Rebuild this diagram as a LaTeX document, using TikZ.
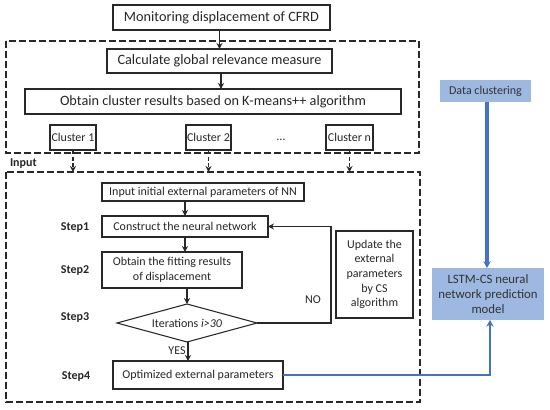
\documentclass[tikz,border=0pt]{standalone}
\usepackage{fontspec}
\setmainfont{Carlito}
\usetikzlibrary{shapes.geometric,arrows.meta,calc}
\newlength\px
\setlength\px{0.75pt}
\definecolor{lineblue}{RGB}{68,114,196}
\definecolor{fillblue}{RGB}{157,185,225}
\definecolor{boxline}{RGB}{40,40,40}
\begin{document}
\begin{tikzpicture}[x=0.75pt,y=-0.75pt,
  every node/.style={inner sep=0pt,outer sep=0pt,text=black!85},
  bx/.style={draw=boxline,line width=0.8pt,rectangle,align=center},
  big/.style={font=\fontsize{10.7}{12.8}\selectfont},
  small/.style={font=\fontsize{9}{11}\selectfont},
  steplab/.style={font=\fontsize{9}{11}\selectfont\bfseries},
  bluebox/.style={fill=fillblue,rectangle,align=center,text=black!80},
  dashbox/.style={draw=boxline,line width=0.8pt,dash pattern=on 5pt off 2.5pt},
  arr/.style={draw=boxline,line width=0.8pt,-{Stealth[length=4.5pt,width=4.5pt]}},
  darr/.style={arr,dash pattern=on 3pt off 2pt},
  barr/.style={draw=lineblue,-{Stealth[length=5pt,width=5.5pt]}}
]
\useasboundingbox (0,0) rectangle (550,410);

% dashed boxes
\draw[dashbox] (6,41) rectangle (419,153);
\draw[dashbox] (6,172) rectangle (420,402);

% top part
\node[bx,big,minimum width=217\px,minimum height=25\px] (mon) at (221.5,17.5) {Monitoring displacement of CFRD};
\node[bx,big,minimum width=225\px,minimum height=24\px] (calc) at (219.5,61) {Calculate global relevance measure};
\node[bx,big,minimum width=376\px,minimum height=25\px] (km) at (213,101.5) {Obtain cluster results based on K-means++ algorithm};
\node[bx,small,minimum width=46\px,minimum height=25\px] (c1) at (73,137.5) {Cluster 1};
\node[bx,small,minimum width=45\px,minimum height=25\px] (c2) at (208.5,137.5) {Cluster 2};
\node[bx,small,minimum width=47\px,minimum height=25\px] (cn) at (349.5,137.5) {Cluster n};
\node[small] (dots) at (281,140) {\dots};

\draw[arr] (mon.south -| calc.north) -- (calc.north);
\draw[arr] (calc.south -| 221,0) -- (221,89);

\node[steplab,anchor=west] (inlab) at (10,164) {Input};
\coordinate (t1) at (73,172);
\coordinate (t2) at (208.5,172);
\coordinate (tn) at (349.5,172);
\draw[darr] (c1.south) -- (t1);
\draw[darr] (c2.south) -- (t2);
\draw[darr] (cn.south) -- (tn);

% lower part
\node[bx,small,minimum width=202\px,minimum height=18\px] (inp) at (203,192) {Input initial external parameters of NN};
\node[bx,small,minimum width=166\px,minimum height=21\px] (cons) at (185,226.5) {Construct the neural network};
\node[bx,small,minimum width=140\px,minimum height=36\px,font=\fontsize{9}{10.8}\selectfont] (fit) at (172,270) {Obtain the fitting results\\of displacement};
\node[draw=boxline,line width=0.8pt,diamond,aspect=3.68,small,minimum width=140\px,minimum height=38\px] (dia) at (187,323) {Iterations \textit{i>30}};
\node[bx,small,minimum width=170\px,minimum height=28\px] (opt) at (198,375) {Optimized external parameters};
\node[bx,small,minimum width=77\px,minimum height=87\px] (upd) at (374.5,274.5) {Update the\\external\\parameters\\by CS\\algorithm};

\node[steplab] (s1) at (75,228) {Step1};
\node[steplab] (s2) at (75,271) {Step2};
\node[steplab] (s3) at (75,318) {Step3};
\node[steplab] (s4) at (76,377) {Step4};

\draw[arr] (inp.south -| cons.north) -- (cons.north);
\draw[arr] (cons.south) -- (cons.south |- fit.north);
\draw[arr] (fit.south -| dia.north) -- (dia.north);
\draw[arr] ($(dia.south)+(1,0)$) -- ($(dia.south |- opt.north)+(1,0)$);
\node[small] (yes) at (177,351) {YES};
\coordinate (lp) at (331,226.5);
\draw[arr] (dia.east) -| (lp) -- (cons.east);
\node[small] (no) at (313,300) {NO};

% right blue part
\node[bluebox,small,minimum width=91\px,minimum height=22\px] (data) at (485.5,91) {Data clustering};
\node[bluebox,font=\fontsize{9.6}{11.2}\selectfont,minimum width=112\px,minimum height=52\px] (lstm) at (488,294) {LSTM-CS neural\\network prediction\\model};
\draw[barr,line width=2.4pt] (data.south -| 487,0) -- (487,268);
\draw[barr,line width=1.8pt] (opt.east) -| (490,320);
\end{tikzpicture}
\end{document}
